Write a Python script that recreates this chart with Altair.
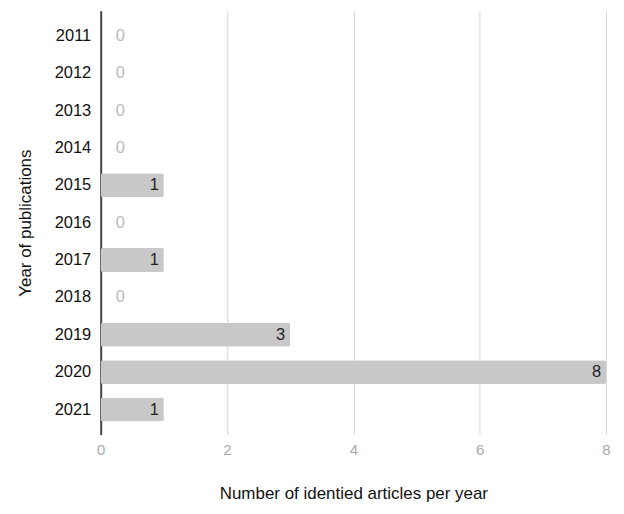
import altair as alt
import pandas as pd

years = ["2011", "2012", "2013", "2014", "2015", "2016", "2017", "2018", "2019", "2020", "2021"]
counts = [0, 0, 0, 0, 1, 0, 1, 0, 3, 8, 1]

df = pd.DataFrame({"year": years, "count": counts})

FONT = "Liberation Sans"

y_enc = alt.Y("year:N", sort=years,
              scale=alt.Scale(paddingInner=0.36, paddingOuter=0.347),
              axis=alt.Axis(title="Year of publications", ticks=False, domain=True,
                            domainColor="#444444", domainWidth=2, labelPadding=10,
                            labelColor="#111111", labelFontSize=16.5, labelFont=FONT,
                            titleFont=FONT, titleFontSize=17, titleFontWeight="normal",
                            titleColor="#111111", titlePadding=20, grid=False))

x_scale = alt.Scale(domain=[0, 8], nice=False)
x_enc = alt.X("count:Q", scale=x_scale,
              axis=alt.Axis(title="Number of identied articles per year", values=[0, 2, 4, 6, 8],
                            format="d", ticks=False, domain=False, grid=True, gridColor="#d6d6d6",
                            labelFlush=False,
                            labelColor="#aaaaaa", labelFontSize=15, labelFont=FONT, labelPadding=8,
                            titleFont=FONT, titleFontSize=17, titleFontWeight="normal",
                            titleColor="#111111", titlePadding=28))

bars = alt.Chart(df).mark_bar(color="#c8c8c8", cornerRadius=2).encode(x=x_enc, y=y_enc)

labels_nz = alt.Chart(df).transform_filter("datum.count > 0").mark_text(
    align="right", dx=-5, fontSize=16.5, font=FONT, color="#222222").encode(
    x=alt.X("count:Q", scale=x_scale), y=alt.Y("year:N", sort=years),
    text=alt.Text("count:Q", format="d"))

labels_z = alt.Chart(df).transform_filter("datum.count == 0").mark_text(
    align="left", dx=15, fontSize=16.5, font=FONT, color="#bbbbbb").encode(
    x=alt.X("count:Q", scale=x_scale), y=alt.Y("year:N", sort=years),
    text=alt.Text("count:Q", format="d"))

chart = alt.layer(bars, labels_nz, labels_z).properties(
    width=507, height=425,
    background="white",
    autosize=alt.AutoSizeParams(type="none"),
    padding={"left": 93, "top": 2, "right": 10, "bottom": 90},
).configure_view(stroke="transparent", strokeWidth=0)

chart.save("out.html", embed_options={"renderer": "svg", "actions": False})
